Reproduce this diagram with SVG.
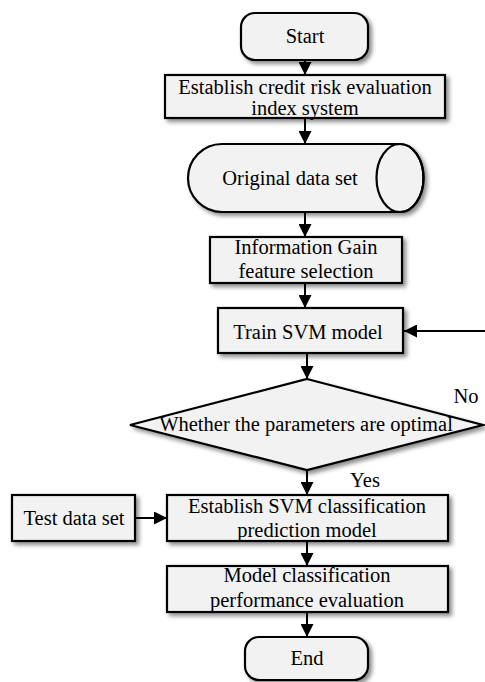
<svg xmlns="http://www.w3.org/2000/svg" width="485" height="682" viewBox="0 0 485 682">
<defs>
<filter id="sh" x="-10%" y="-20%" width="130%" height="150%">
<feDropShadow dx="3" dy="3" stdDeviation="2" flood-color="#000" flood-opacity="0.45"/>
</filter>
<marker id="ah" viewBox="0 0 13 13" markerWidth="13" markerHeight="13" refX="13" refY="6.5" orient="auto" markerUnits="userSpaceOnUse">
<path d="M0,0 L13,6.5 L0,13 Z" fill="#000"/>
</marker>
</defs>
<style>
.n{fill:#f2f2f2;stroke:#000;stroke-width:2.2;filter:url(#sh)}
.c{stroke:#000;stroke-width:2;fill:none;marker-end:url(#ah)}
</style>
<rect width="485" height="682" fill="#fff"/>
<g id="connectors">
<line class="c" x1="305" y1="60" x2="305" y2="75"/>
<line class="c" x1="305" y1="118" x2="305" y2="144"/>
<line class="c" x1="305" y1="212" x2="305" y2="237"/>
<line class="c" x1="305" y1="283" x2="305" y2="308"/>
<line class="c" x1="307" y1="353" x2="307" y2="379"/>
<line class="c" x1="307" y1="470" x2="307" y2="495"/>
<line class="c" x1="135" y1="518" x2="167" y2="518"/>
<line class="c" x1="307" y1="541" x2="307" y2="566"/>
<line class="c" x1="307" y1="612" x2="307" y2="637"/>
<line class="c" x1="486" y1="331" x2="404" y2="331"/>
</g>
<g font-family="Liberation Serif, Times New Roman, serif" font-size="20.5" fill="#000" text-anchor="middle">
<g id="start">
<rect class="n" x="241" y="13" width="127" height="47" rx="14"/>
<text x="305" y="43">Start</text>
</g>
<g id="index">
<rect class="n" x="165" y="75" width="280" height="43"/>
<text x="305" y="94">Establish credit risk evaluation</text>
<text x="305" y="115">index system</text>
</g>
<g id="dataset">
<path class="n" d="M222,144 L400,144 A23.5,34 0 0 1 400,212 L222,212 A34,34 0 0 1 222,144 Z"/>
<ellipse cx="400" cy="178" rx="23.5" ry="34" fill="none" stroke="#000" stroke-width="2.2"/>
<text x="290" y="185">Original data set</text>
</g>
<g id="infogain">
<rect class="n" x="210" y="237" width="192" height="46"/>
<text x="306" y="254">Information Gain</text>
<text x="306" y="278">feature selection</text>
</g>
<g id="train">
<rect class="n" x="218" y="308" width="185" height="45"/>
<text x="308" y="339">Train SVM model</text>
</g>
<g id="decision">
<path class="n" d="M307,379 L483,425 L307,470 L130,425 Z"/>
<text x="306" y="431">Whether the parameters are optimal</text>
<text x="466" y="403">No</text>
<text x="365" y="487">Yes</text>
</g>
<g id="testdata">
<rect class="n" x="12" y="495" width="123" height="46"/>
<text x="74" y="525">Test data set</text>
</g>
<g id="establish">
<rect class="n" x="167" y="495" width="281" height="46"/>
<text x="307" y="513">Establish SVM classification</text>
<text x="307" y="537">prediction model</text>
</g>
<g id="evaluation">
<rect class="n" x="167" y="566" width="281" height="46"/>
<text x="307" y="582">Model classification</text>
<text x="307" y="607">performance evaluation</text>
</g>
<g id="end">
<rect class="n" x="245" y="637" width="123" height="43" rx="14"/>
<text x="307" y="665">End</text>
</g>
</g>
</svg>
